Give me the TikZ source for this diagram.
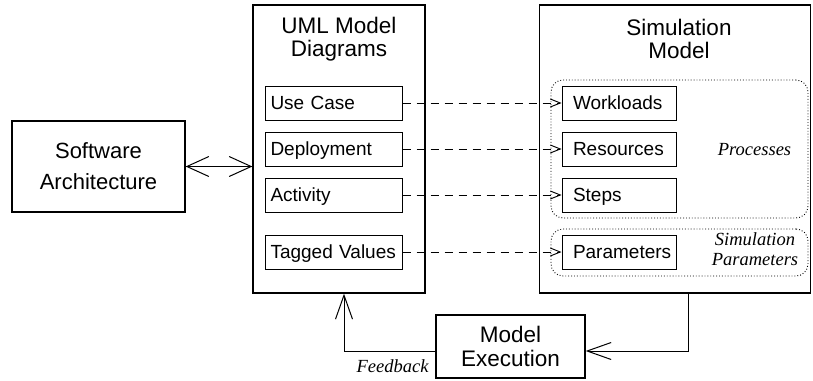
\documentclass[tikz,border=0pt]{standalone}
\usepackage{fontspec}
\setmainfont{Liberation Sans}
\newfontfamily\serifit{Liberation Serif}
\usetikzlibrary{arrows.meta}
\begin{document}
\begin{tikzpicture}[x=1pt,y=-1pt,
  outer/.style={draw, line width=1.3pt, inner sep=0pt},
  inner/.style={draw, line width=1pt, minimum width=137pt, minimum height=34pt, inner sep=0pt, text width=126pt, text height=13.6pt, text depth=0pt, align=left, font=\fontsize{19}{21}\selectfont},
  innerS/.style={inner, minimum width=114pt, text width=92pt},
  ttl/.style={align=center, font=\fontsize{22.5}{23}\selectfont},
  lbl/.style={font=\fontsize{18.5}{20}\serifit\itshape, align=center},
  group/.style={draw, dotted, line width=0.9pt, rounded corners=12pt},
  bigtip/.style={-{Straight Barb[length=24pt,width=17pt,line width=1pt]}},
  dtip/.style={dashed, dash pattern=on 8pt off 6pt, line width=0.9pt, -{Straight Barb[length=10pt,width=8pt]}}
]
\useasboundingbox (0,0) rectangle (813,380);
% Software Architecture
\node[outer, minimum width=173pt, minimum height=91pt, align=center, font=\fontsize{22}{31}\selectfont] (sa) at (98.5,166.5) {Software\\Architecture};
% UML box
\node[outer, minimum width=172pt, minimum height=288pt] (uml) at (339,149) {};
\node[ttl] (umlt) at (339,39) {UML Model\\Diagrams};
\node[inner] (uc) at (333.5,103) {Use Case};
\node[inner] (dep) at (333.5,149) {Deployment};
\node[inner] (act) at (333.5,195) {Activity};
\node[inner] (tv) at (333.5,252) {\mbox{Tagged Values}};
% Simulation box
\node[outer, minimum width=271pt, minimum height=288pt] (sim) at (675,149) {};
\node[ttl] (simt) at (679,39) {Simulation\\Model};
\node[group, minimum width=257pt, minimum height=138pt] (proc) at (679.5,149) {};
\node[group, minimum width=257pt, minimum height=47pt] (spar) at (679.5,252.5) {};
\node[innerS] (wl) at (619,103) {Workloads};
\node[innerS] (res) at (619,149) {Resources};
\node[innerS] (st) at (619,195) {Steps};
\node[innerS] (par) at (619,252) {\mbox{Parameters}};
\node[lbl] (proct) at (754.5,150) {Processes};
\node[lbl] (spart) at (755,249) {Simulation\\Parameters};
% Model Execution
\node[outer, minimum width=149pt, minimum height=63pt, align=center, font=\fontsize{22.5}{24}\selectfont] (me) at (510.5,346.5) {Model\\Execution};
\node[lbl, anchor=east] (fb) at (432,366) {Feedback};
% connectors
\draw[line width=1pt, {Straight Barb[length=22pt,width=20pt,line width=1pt]}-{Straight Barb[length=22pt,width=20pt,line width=1pt]}] (sa.east) -- (sa.east -| uml.west);
\draw[dtip] (uc.east) -- (wl.west);
\draw[dtip] (dep.east) -- (res.west);
\draw[dtip] (act.east) -- (st.west);
\draw[dtip] (tv.east) -- (par.west);
\coordinate (c1) at (688,351);
\coordinate (c2) at (344,351);
\draw[line width=1pt, bigtip] (sim.south -| c1) -- (c1) -- (c1 -| me.east);
\draw[line width=1pt, bigtip] (c2 -| me.west) -- (c2) -- (c2 |- uml.south);
\end{tikzpicture}
\end{document}
